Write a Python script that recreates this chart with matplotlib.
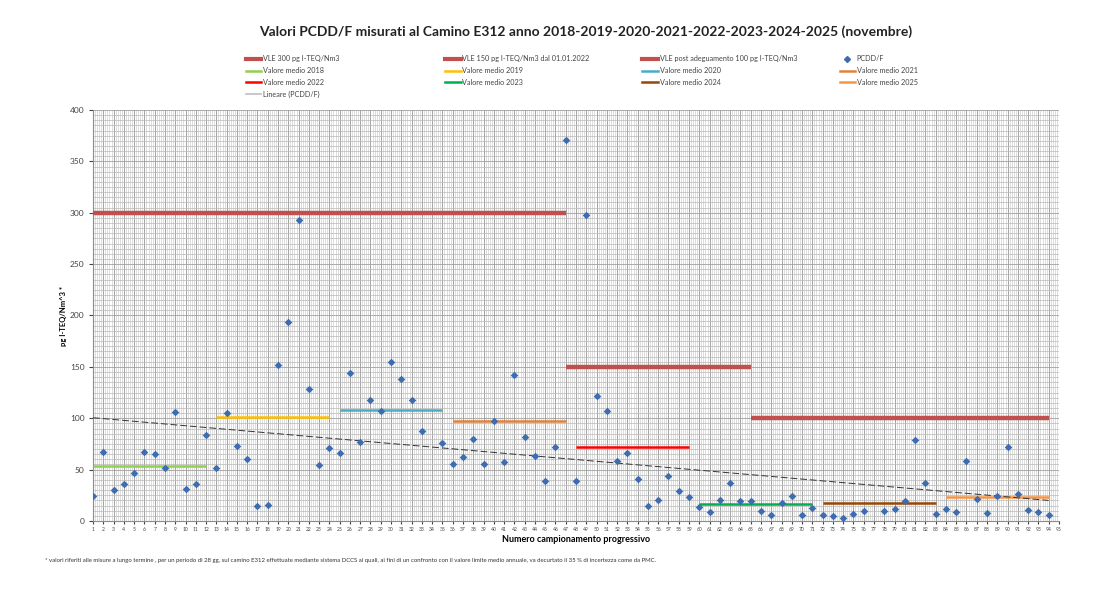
import numpy as np
import matplotlib
matplotlib.use("Agg")
import matplotlib.pyplot as plt
from matplotlib.lines import Line2D
from matplotlib.ticker import MultipleLocator

plt.rcParams["font.family"] = ["Lato", "DejaVu Sans"]

# misure PCDD/F (pg I-TEQ/Nm3), campioni 1..94 (34 e 77 mancanti)
campione = np.arange(1, 95)
pcdd = [
    24.3, 67.5, 29.9, 36.3, 46.7, 67.2, 65.5, 51.3, 106.4, 30.8,
    36.0, 83.4, 51.3, 105.4, 73.3, 60.3, 14.6, 15.9, 151.5, 193.7,
    292.6, 128.8, 54.8, 71.4, 66.2, 144.0, 77.2, 118.1, 107.0, 155.0,
    137.9, 117.4, 87.3, np.nan, 76.2, 55.5, 62.3, 80.1, 55.5, 97.3,
    57.1, 142.1, 82.0, 63.6, 38.6, 72.3, 371.0, 39.2, 297.5, 121.7,
    106.7, 58.4, 66.2, 41.2, 14.3, 20.1, 43.5, 29.5, 23.7, 13.9,
    8.8, 20.1, 36.7, 19.2, 19.8, 10.1, 6.1, 17.8, 24.6, 5.8,
    12.3, 6.1, 5.2, 2.6, 6.5, 10.0, np.nan, 9.7, 12.0, 19.2,
    78.8, 37.0, 7.1, 11.7, 8.8, 58.4, 21.4, 7.8, 24.6, 72.3,
    26.3, 10.7, 8.8, 6.1,
]

# limiti VLE: (valore, primo campione, ultimo campione)
vle_labels = ["VLE 300 pg I-TEQ/Nm3", "VLE 150 pg I-TEQ/Nm3 dal 01.01.2022",
              "VLE post adeguamento 100 pg I-TEQ/Nm3"]
vle_values = [300, 150, 100]
vle_from = [1, 47, 65]
vle_to = [47, 65, 94]

# valori medi annuali
anni = [2018, 2019, 2020, 2021, 2022, 2023, 2024, 2025]
media = [53.5, 101.0, 108.3, 97.6, 72.0, 16.5, 17.5, 23.7]
media_from = [1, 13, 25, 36, 48, 60, 72, 84]
media_to = [12, 24, 35, 47, 59, 71, 83, 94]
media_colors = ["#92d050", "#ffc000", "#4bacc6", "#e0823d",
                "#ff0000", "#00b050", "#974706", "#f79646"]

# tendenza lineare (valori letti agli estremi)
trend_x = [1, 94]
trend_y = [100.5, 20.0]

VLE_COLOR = "#c0504d"
POINT_COLOR = "#3d6db0"

fig = plt.figure(figsize=(10.96, 5.95), dpi=100)
ax = fig.add_axes([0.0849, 0.1244, 0.8813, 0.6907])

for v, a, b in zip(vle_values, vle_from, vle_to):
    ax.plot([a, b], [v, v], color=VLE_COLOR, lw=3.2, solid_capstyle="butt", zorder=3)

for v, a, b, c in zip(media, media_from, media_to, media_colors):
    ax.plot([a, b], [v, v], color=c, lw=1.8, solid_capstyle="butt", zorder=3)

ax.plot(trend_x, trend_y, color="#333333", lw=0.7, ls=(0, (7, 3)), zorder=4)

ax.scatter(campione, pcdd, marker="D", s=15, color=POINT_COLOR, lw=0, zorder=5)

ax.set_xlim(1, 95)
ax.set_ylim(0, 400)
ax.xaxis.set_major_locator(MultipleLocator(1))
ax.xaxis.set_minor_locator(MultipleLocator(0.2))
ax.yaxis.set_major_locator(MultipleLocator(50))
ax.yaxis.set_minor_locator(MultipleLocator(5))
ax.grid(which="major", axis="x", color="#949494", lw=0.6)
ax.grid(which="minor", axis="x", color="#d0d0d0", lw=0.5)
ax.grid(which="major", axis="y", color="#a0a0a0", lw=0.6)
ax.grid(which="minor", axis="y", color="#b8b8b8", lw=0.5)
ax.set_axisbelow(True)
ax.tick_params(axis="x", which="major", labelsize=3.6, length=2.5, colors="#444444", pad=2)
ax.tick_params(axis="y", which="major", labelsize=6, length=3, colors="#444444", pad=3)
ax.tick_params(which="minor", length=0)
for side in ["top", "right"]:
    ax.spines[side].set_visible(False)
for side in ["left", "bottom"]:
    ax.spines[side].set_color("#8c8c8c")
    ax.spines[side].set_linewidth(0.8)

ax.set_xlabel("Numero campionamento progressivo", fontsize=6.5, fontweight="bold", labelpad=2)
ax.set_ylabel("pg I-TEQ/Nm^3 *", fontsize=5.5, fontweight="bold", labelpad=2)

fig.text(0.534, 0.946, "Valori PCDD/F misurati al Camino E312 anno "
         "2018-2019-2020-2021-2022-2023-2024-2025 (novembre)",
         ha="center", va="center", fontsize=10, fontweight="bold", color="#222222")

fig.text(0.041, 0.058, "* valori riferiti alle misure a lungo termine , per un periodo di 28 gg, "
         "sul camino E312 effettuate mediante sistema DCCS ai quali, ai fini di un confronto con "
         "il valore limite medio annuale, va decurtato il 35 % di incertezza come da PMC.",
         ha="left", va="center", fontsize=4.3, color="#333333")

# legenda in 4 colonne (ordine per righe come nell'originale)
vle_h = [Line2D([], [], color=VLE_COLOR, lw=3) for _ in vle_values]
pt_h = Line2D([], [], ls="none", marker="D", ms=3, color=POINT_COLOR)
med_h = [Line2D([], [], color=c, lw=1.8) for c in media_colors]
med_l = [f"Valore medio {a}" for a in anni]
tr_h = Line2D([], [], color="#bfbfbf", lw=1.2)

cols = [
    ([vle_h[0], med_h[0], med_h[4], tr_h], [vle_labels[0], med_l[0], med_l[4], "Lineare (PCDD/F)"]),
    ([vle_h[1], med_h[1], med_h[5]], [vle_labels[1], med_l[1], med_l[5]]),
    ([vle_h[2], med_h[2], med_h[6]], [vle_labels[2], med_l[2], med_l[6]]),
    ([pt_h, med_h[3], med_h[7]], ["PCDD/F", med_l[3], med_l[7]]),
]
col_x = [0.224, 0.406, 0.586, 0.766]
for (h, l), cx in zip(cols, col_x):
    fig.legend(h, l, loc="upper left", bbox_to_anchor=(cx, 0.907), frameon=False,
               fontsize=5.2, handlelength=2.2, handletextpad=0.2, labelspacing=0.65,
               borderpad=0, borderaxespad=0, labelcolor="#444444")

fig.savefig("out.png", dpi=100)
